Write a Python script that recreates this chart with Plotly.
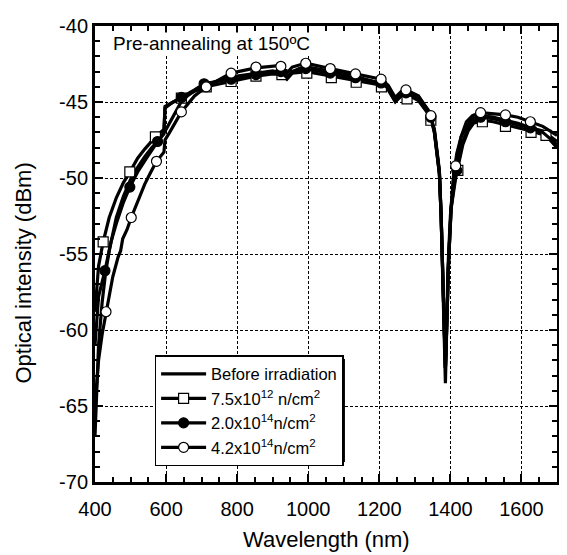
import plotly.graph_objects as go

# ---------------- data ----------------
wl_before = [400, 405, 410, 420, 430, 440, 450, 460, 480, 500, 520, 540, 560, 580, 600, 620, 640, 660,
             690, 720, 760, 800, 850, 900, 925, 940, 955, 975, 1000, 1040, 1080, 1120, 1160, 1200, 1225,
             1245, 1262, 1280, 1310, 1340, 1355, 1362, 1369, 1374, 1378, 1382, 1386, 1389, 1393, 1400,
             1409, 1418, 1430, 1445, 1462, 1485, 1520, 1555, 1590, 1627, 1660, 1700]
before = [-67.0, -63.5, -61.0, -58.2, -56.2, -54.8, -53.6, -52.6, -51.2, -50.1, -49.3, -48.6, -48.0,
          -47.5, -46.8, -45.9, -45.1, -44.6, -44.1, -43.8, -43.5, -43.3, -43.1, -42.95, -43.1, -43.4,
          -43.0, -42.8, -42.7, -42.85, -43.05, -43.25, -43.5, -43.75, -44.1, -44.9, -44.5, -44.3, -44.6,
          -45.6, -46.8, -48.0, -49.5, -52.5, -57.0, -61.5, -63.5, -60.5, -56.0, -52.5, -49.8, -48.4,
          -47.3, -46.6, -46.1, -45.9, -46.0, -46.2, -46.4, -46.7, -46.9, -47.6]

wl_sq = [400, 405, 410, 423, 440, 460, 480, 498, 520, 540, 570, 594, 597, 620, 643, 680, 713, 783, 853,
         900, 926, 940, 955, 996, 1065, 1135, 1206, 1225, 1245, 1262, 1278, 1310, 1345, 1355, 1362,
         1369, 1374, 1378, 1382, 1386, 1390, 1395, 1402, 1412, 1421, 1435, 1450, 1465, 1490, 1520,
         1555, 1590, 1627, 1669, 1700]
sq = [-58.8, -57.0, -55.8, -54.2, -52.6, -51.3, -50.3, -49.6, -48.7, -48.1, -47.3, -46.8, -45.3, -45.0,
      -44.75, -44.3, -44.0, -43.65, -43.3, -43.15, -43.2, -43.5, -43.1, -43.0, -43.3, -43.6, -43.9,
      -44.2, -45.0, -44.6, -44.5, -44.9, -46.0, -47.0, -48.2, -49.7, -52.5, -56.5, -60.5, -62.5,
      -59.5, -55.5, -52.0, -50.2, -49.3, -47.8, -46.9, -46.4, -46.2, -46.3, -46.5, -46.7, -46.9,
      -47.2, -48.0]
sq_mk_wl = [423, 498, 570, 643, 713, 783, 853, 926, 996, 1065, 1135, 1206, 1278, 1345, 1421, 1490,
            1555, 1627, 1669]
sq_mk = [-54.2, -49.6, -47.3, -44.75, -44.0, -43.65, -43.3, -43.2, -43.1, -43.4, -43.7, -44.0, -44.8,
         -46.2, -49.5, -46.3, -46.6, -47.0, -47.2]

wl_fc = [400, 405, 410, 428, 445, 460, 480, 498, 520, 545, 576, 594, 597, 620, 643, 680, 707, 783, 853,
         923, 940, 955, 993, 1062, 1133, 1205, 1225, 1245, 1262, 1275, 1310, 1345, 1355, 1362, 1369,
         1374, 1378, 1382, 1386, 1390, 1395, 1402, 1412, 1418, 1435, 1450, 1465, 1485, 1520, 1555,
         1590, 1625, 1660, 1700]
fc = [-61.0, -59.0, -57.8, -56.1, -54.2, -53.0, -51.6, -50.6, -49.6, -48.7, -47.6, -47.1, -45.4, -45.0,
      -44.7, -44.2, -43.8, -43.5, -43.2, -43.0, -43.4, -43.0, -42.8, -43.1, -43.4, -43.75, -44.1,
      -44.9, -44.5, -44.4, -44.8, -46.0, -47.0, -48.2, -49.7, -52.5, -56.5, -60.5, -62.5, -59.5,
      -55.5, -52.0, -50.2, -49.5, -47.6, -46.7, -46.3, -46.0, -46.1, -46.3, -46.5, -46.7, -47.0, -47.8]
fc_mk_wl = [428, 498, 576, 643, 707, 783, 853, 923, 993, 1062, 1133, 1205, 1275, 1345, 1418, 1485,
            1555, 1625]
fc_mk = [-56.1, -50.6, -47.6, -44.7, -43.8, -43.5, -43.2, -43.0, -42.8, -43.1, -43.4, -43.75, -44.4,
         -46.0, -49.5, -46.0, -46.3, -46.7]

wl_oc = [400, 405, 410, 420, 431, 450, 465, 472, 478, 490, 502, 520, 540, 555, 573, 594, 597, 610, 625,
         643, 680, 713, 783, 853, 923, 940, 955, 993, 1062, 1133, 1205, 1225, 1245, 1262, 1275, 1310,
         1345, 1355, 1362, 1369, 1374, 1378, 1382, 1386, 1390, 1395, 1402, 1410, 1415, 1430, 1445,
         1462, 1485, 1520, 1555, 1590, 1625, 1660, 1700]
oc = [-65.0, -63.5, -62.0, -60.3, -58.8, -56.5, -55.2, -54.8, -54.0, -53.4, -52.6, -51.5, -50.4, -49.7,
      -48.9, -48.3, -47.5, -47.0, -46.4, -45.65, -44.6, -44.0, -43.1, -42.75, -42.6, -43.1, -42.7,
      -42.45, -42.8, -43.15, -43.5, -43.9, -44.7, -44.3, -44.2, -44.6, -45.9, -46.9, -48.1, -49.6,
      -52.5, -56.5, -60.5, -62.5, -59.5, -55.5, -52.0, -49.8, -49.2, -47.3, -46.3, -45.9, -45.7,
      -45.75, -45.85, -46.0, -46.3, -46.6, -47.2]
oc_mk_wl = [431, 502, 573, 643, 713, 783, 853, 923, 993, 1062, 1133, 1205, 1275, 1345, 1415, 1485,
            1555, 1625]
oc_mk = [-58.8, -52.6, -48.9, -45.65, -44.0, -43.1, -42.7, -42.65, -42.45, -42.8, -43.15, -43.5, -44.2,
         -45.9, -49.2, -45.7, -45.85, -46.3]

labels = ["Before irradiation",
          "7.5x10<sup>12</sup> n/cm<sup>2</sup>",
          "2.0x10<sup>14</sup>n/cm<sup>2</sup>",
          "4.2x10<sup>14</sup>n/cm<sup>2</sup>"]

x_ticks = [400, 600, 800, 1000, 1200, 1400, 1600]
y_ticks = [-70, -65, -60, -55, -50, -45, -40]

# ---------------- figure ----------------
FONT = "Liberation Sans, Arial, sans-serif"
LW = 3.2
fig = go.Figure()

fig.add_trace(go.Scatter(x=wl_before, y=before, mode="lines", name=labels[0],
                         line=dict(color="black", width=LW)))

series = [
    (wl_sq, sq, sq_mk_wl, sq_mk, labels[1], "square", "white"),
    (wl_fc, fc, fc_mk_wl, fc_mk, labels[2], "circle", "black"),
    (wl_oc, oc, oc_mk_wl, oc_mk, labels[3], "circle", "white"),
]
for i, (wx, wy, mx, my, lab, sym, fill) in enumerate(series):
    grp = f"g{i}"
    mk = dict(symbol=sym, size=10, color=fill, line=dict(color="black", width=1.2))
    fig.add_trace(go.Scatter(x=wx, y=wy, mode="lines", showlegend=False, legendgroup=grp,
                             line=dict(color="black", width=LW)))
    fig.add_trace(go.Scatter(x=mx, y=my, mode="markers", showlegend=False, legendgroup=grp,
                             marker=mk))
    fig.add_trace(go.Scatter(x=[None], y=[None], mode="lines+markers", name=lab, legendgroup=grp,
                             line=dict(color="black", width=LW), marker=mk))

axis_common = dict(
    showline=True, linecolor="black", linewidth=3, mirror="allticks",
    ticks="inside", ticklen=8, tickwidth=1.5, tickcolor="black",
    showgrid=True, gridcolor="black", gridwidth=1, griddash="3px,2px",
    zeroline=False, ticklabeloverflow="allow",
    tickfont=dict(family=FONT, size=20, color="black"),
)
fig.update_xaxes(range=[400, 1700], tickvals=x_ticks, ticktext=[str(v) for v in x_ticks],
                 ticklabelstandoff=7,
                 minor=dict(dtick=50, tick0=400, ticks="inside", ticklen=5, tickwidth=1.5,
                            tickcolor="black", showgrid=False),
                 **axis_common)
fig.update_yaxes(range=[-70, -40], tickvals=y_ticks, ticktext=[str(v) for v in y_ticks],
                 minor=dict(dtick=1, tick0=-70, ticks="inside", ticklen=5, tickwidth=1.5,
                            tickcolor="black", showgrid=False),
                 **axis_common)

# axis titles (placed as annotations to match the reference positions)
fig.add_annotation(text="Wavelength (nm)", xref="paper", yref="paper", x=0.5, y=-0.127,
                   xanchor="center", yanchor="middle", showarrow=False,
                   font=dict(family=FONT, size=22, color="black"))
fig.add_annotation(text="Optical intensity (dBm)", xref="paper", yref="paper", x=-0.155, y=0.458,
                   xanchor="center", yanchor="middle", textangle=-90, showarrow=False,
                   font=dict(family=FONT, size=22, color="black"))

fig.add_annotation(text="Pre-annealing at 150ºC", xref="paper", yref="paper", x=0.036, y=0.962,
                   xanchor="left", yanchor="middle", showarrow=False, bgcolor="white",
                   borderpad=0, font=dict(family=FONT, size=19, color="black"))

# legend shadow
fig.add_shape(type="rect", xref="paper", yref="paper", x0=0.136, x1=0.541, y0=0.044, y1=0.27,
              fillcolor="black", line=dict(width=0), layer="above")

# page body has an 8px margin: plot area placed at x 95..560, y 15..482 of the window
fig.update_layout(
    width=559, height=547,
    margin=dict(l=87, r=7, t=7, b=73),
    paper_bgcolor="white", plot_bgcolor="white",
    font=dict(family=FONT, color="black"),
    legend=dict(x=0.129, y=0.278, xanchor="left", yanchor="top",
                bgcolor="white", bordercolor="black", borderwidth=1.5,
                font=dict(family=FONT, size=16.5, color="black"),
                itemsizing="trace", tracegroupgap=0, itemwidth=45),
    showlegend=True,
)

fig.write_html("out.html")
